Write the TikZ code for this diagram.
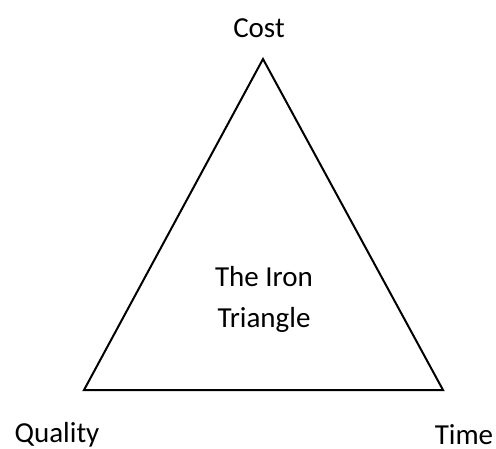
\documentclass[tikz,border=0pt]{standalone}
\usepackage{fontspec}
\setmainfont{Carlito}
\usetikzlibrary{positioning}

\begin{document}
\begin{tikzpicture}[x=1pt, y=-1pt,
  lbl/.style={font=\fontsize{29}{41}\selectfont, inner sep=0pt, anchor=base},
  edge/.style={draw, line width=2pt}]
\useasboundingbox (0,0) rectangle (496,448);
\coordinate (apex) at (263,59);
\coordinate (left) at (84,390);
\coordinate (right) at (443,390);
\draw[edge] (apex) -- (right) -- (left) -- cycle;
\node[lbl] (cost) at (259,37) {Cost};
\node[lbl] (quality) at (57,442) {Quality};
\node[lbl] (time) at (464,444) {Time};
\node[lbl] (iron) at (264,286) {The Iron};
\node[lbl] (tri) at (264,327) {Triangle};
\end{tikzpicture}
\end{document}
